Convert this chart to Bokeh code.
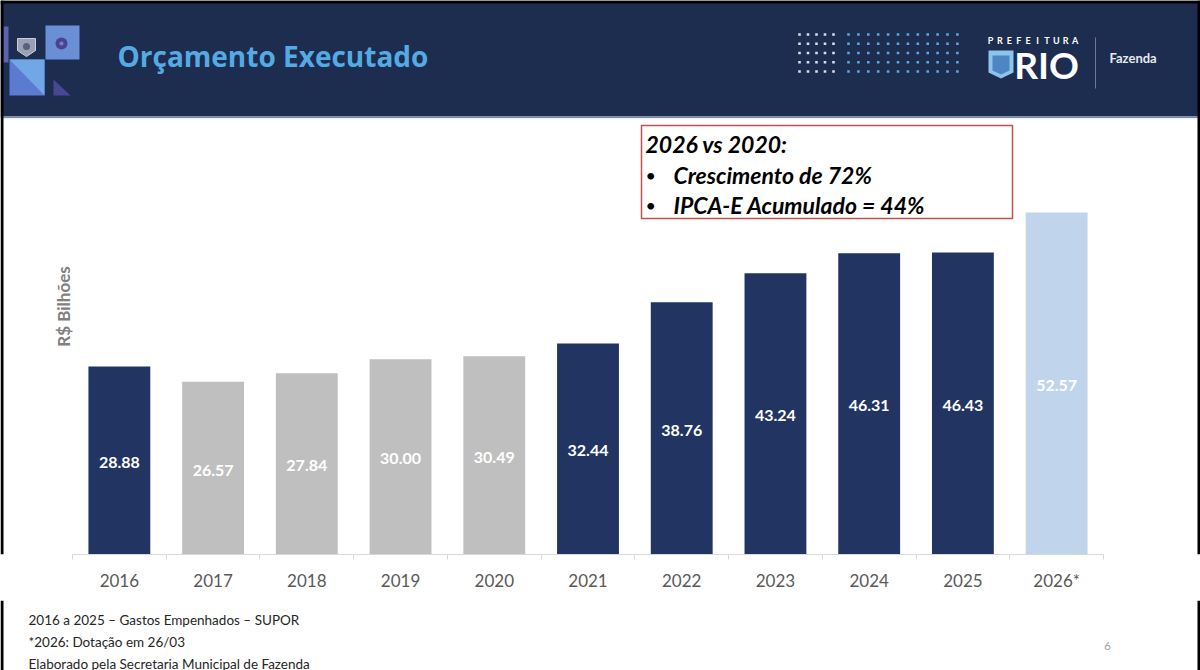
import math

from bokeh.plotting import figure
from bokeh.layouts import column
from bokeh.models import ColumnDataSource, Range1d, LabelSet, FixedTicker
from bokeh.core.properties import value
from bokeh.transform import factor_cmap
from bokeh.embed import file_html
from bokeh.resources import INLINE

# ---- data -------------------------------------------------------------
years = ["2016", "2017", "2018", "2019", "2020", "2021",
         "2022", "2023", "2024", "2025", "2026*"]
values = [28.88, 26.57, 27.84, 30.00, 30.49, 32.44,
          38.76, 43.24, 46.31, 46.43, 52.57]
periods = ["atual", "anterior", "anterior", "anterior", "anterior", "atual",
           "atual", "atual", "atual", "atual", "dotacao"]
period_names = ["atual", "anterior", "dotacao"]
period_colors = ["#223461", "#bfbfbf", "#c0d4ec"]

title_text = "Orçamento Executado"
y_label = "R$ Bilhões"
box_title = "2026 vs 2020:"
box_items = ["Crescimento de 72%", "IPCA-E Acumulado = 44%"]
notes = ["2016 a 2025 – Gastos Empenhados – SUPOR",
         "*2026: Dotação em 26/03",
         "Elaborado pela Secretaria Municipal de Fazenda"]
page_number = "6"

FONT = "Lato"
NAVY_BG = "#1c2d50"

# category slots: one unit per year, bar centred in its slot
centers = [i + 0.5 for i in range(len(years))]
source = ColumnDataSource(dict(
    x=centers,
    value=values,
    period=periods,
    mid=[v / 2 for v in values],
    label=[f"{v:.2f}" for v in values],
))

# ---- layout geometry (page pixels) --------------------------------------
W = 1200
TOP_H, BOT_H = 600, 70           # slide body / footnote strip
BASE = 554                       # baseline of the bars
CHART_L, CHART_R = 72, 1103      # horizontal extent of the category axis
SLOT = (CHART_R - CHART_L) / len(years)
UNIT = 6.506                     # pixels per R$ bilhão

main = figure(width=W, height=TOP_H,
              x_range=Range1d(-CHART_L / SLOT, (W - CHART_L) / SLOT),
              y_range=Range1d(0, BASE / UNIT),
              min_border_left=0, min_border_right=0, min_border_top=0,
              min_border_bottom=TOP_H - BASE,
              y_axis_location=None,
              output_backend="svg", toolbar_location=None,
              background_fill_color="white", border_fill_color="white")
main.outline_line_color = None
main.grid.visible = False

# page-pixel coordinates for the slide decoration
main.extra_x_ranges = {"px": Range1d(0, W)}
main.extra_y_ranges = {"py": Range1d(BASE, 0)}
PX = dict(x_range_name="px", y_range_name="py")


def quad(fig, l, r, t, b, color, **kw):
    fig.quad(left=[l], right=[r], top=[t], bottom=[b], fill_color=color,
             line_color=None, **kw)


def txt(fig, x, y, s, size, color, style="normal", align="left", font=FONT,
        angle=0, **kw):
    fig.text(x=[x], y=[y], text=[s], text_font=value(font), text_font_size=size,
             text_color=color, text_font_style=style, text_align=align,
             text_baseline="middle", angle=angle, **kw)


# ---- header band --------------------------------------------------------
quad(main, 0, W, 0, 116, NAVY_BG, **PX)
quad(main, 0, W, 116, 117.5, "#7d8aa6", **PX)
quad(main, 0, W, 117.5, 119, "#eef1f6", **PX)

# left emblem blocks
quad(main, 3, 8, 26, 62, "#5d62b0", **PX)
quad(main, 45, 79, 25, 59, "#6b8fd6", **PX)
main.scatter(x=[61], y=[43], size=12, marker="circle", fill_color="#45468f",
             line_color=None, **PX)
main.scatter(x=[61], y=[43], size=4, marker="circle", fill_color="#7c80c9",
             line_color=None, **PX)
# municipal crest (simplified)
main.patch(x=[17, 35, 35, 26, 17], y=[38, 38, 50, 56, 50], fill_color="#9aa1b4",
           line_color="#c9cdd8", line_width=1, **PX)
main.scatter(x=[26], y=[46], size=7, marker="circle", fill_color="#59607a",
             line_color=None, **PX)
main.patch(x=[9, 44, 44, 9], y=[59, 59, 95, 95], fill_color="#5b7bd0",
           line_color=None, **PX)
main.patch(x=[9, 44, 44], y=[59, 59, 95], fill_color="#70a7e6",
           line_color=None, **PX)
main.patch(x=[53, 53, 70], y=[79, 95, 95], fill_color="#4a4696",
           line_color=None, **PX)

txt(main, 117, 55, title_text, "28px", "#55aae3", style="bold", font="Open Sans", **PX)

# dotted pattern
rows_y = [34, 43.3, 52.5, 61.8, 71]
white_x = [799 + i * 8.5 for i in range(5)]
blue_x = [848 + i * 9.9 for i in range(12)]
main.scatter(x=[x for _ in rows_y for x in white_x],
             y=[y for y in rows_y for _ in white_x],
             marker="square", size=2.6, fill_color="#d9deea", line_color=None, **PX)
main.scatter(x=[x for _ in rows_y for x in blue_x],
             y=[y for y in rows_y for _ in blue_x],
             marker="square", size=2.6, fill_color="#5aa8df", line_color=None, **PX)

# city logo
main.text(x=[990 + i * 9.4 for i in range(10)], y=[40] * 10, text=list("PREFEITURA"),
          text_font=value(FONT), text_font_size="9px", text_color="white",
          text_font_style="bold", text_align="center", text_baseline="middle", **PX)
main.patch(x=[988, 1013, 1013, 1000.5, 988], y=[50, 50, 72, 78, 72],
           fill_color="#8ec3ea", line_color=None, **PX)
main.patch(x=[992, 1009, 1009, 1000.5, 992], y=[55, 55, 70, 74, 70],
           fill_color="#4d86c4", line_color=None, **PX)
txt(main, 1046, 64, "RIO", "37px", "white", style="bold", align="center", **PX)
quad(main, 1094.5, 1095.5, 37, 88, "#6c7a99", **PX)
txt(main, 1109, 57, "Fazenda", "13px", "#e6e9f0", style="bold", **PX)

# ---- bars -----------------------------------------------------------------
main.vbar(x="x", top="value", width=0.66, source=source, line_color=None,
          fill_color=factor_cmap("period", palette=period_colors, factors=period_names))

main.add_layout(LabelSet(x="x", y="mid", text="label", source=source,
                         text_align="center", text_baseline="middle", y_offset=-2,
                         text_color="white", text_font=value(FONT),
                         text_font_style="bold", text_font_size="16px"))

ax = main.xaxis[0]
ax.bounds = (0, len(years))
ax.ticker = FixedTicker(ticks=centers, minor_ticks=list(range(len(years) + 1)))
ax.major_label_overrides = {c: y for c, y in zip(centers, years)}
ax.axis_line_color = "#d9d9d9"
ax.major_tick_line_color = None
ax.major_tick_out = 0
ax.major_tick_in = 0
ax.minor_tick_line_color = "#d9d9d9"
ax.minor_tick_out = 5
ax.minor_tick_in = 0
ax.major_label_standoff = 10
ax.major_label_text_font = FONT
ax.major_label_text_font_size = "17px"
ax.major_label_text_color = "#595959"

txt(main, 63, 306, y_label, "17px", "#808080", style="bold", align="center",
    angle=math.pi / 2, **PX)

# ---- callout box --------------------------------------------------------
main.quad(left=[641], right=[1012], top=[125], bottom=[218], fill_color="white",
          line_color="#c0504d", line_width=1.5, **PX)
txt(main, 645, 143, box_title, "23px", "black", style="bold italic", **PX)
for j, item in enumerate(box_items):
    yy = 174 + j * 30
    txt(main, 645, yy, "•", "18px", "black", **PX)
    txt(main, 673, yy, item, "23px", "black", style="bold italic", **PX)

# slide frame edges
quad(main, 0, 3, 0, BASE, "black", **PX)
quad(main, W - 3, W, 0, BASE, "black", **PX)
quad(main, 0, W, 0, 3, "black", **PX)

# ---- footnote strip -------------------------------------------------------
foot = figure(width=W, height=BOT_H, x_range=Range1d(0, W),
              y_range=Range1d(TOP_H + BOT_H, TOP_H),
              min_border=0, x_axis_location=None, y_axis_location=None,
              output_backend="svg", toolbar_location=None,
              background_fill_color="white", border_fill_color="white")
foot.outline_line_color = None
foot.grid.visible = False
for j, note in enumerate(notes):
    txt(foot, 28, 619 + j * 22, note, "13.5px", "#262626")
txt(foot, 1107, 645, page_number, "12px", "#a6a6a6", align="center")
quad(foot, 0, 3, TOP_H, TOP_H + BOT_H, "black")
quad(foot, W - 3, W, TOP_H, TOP_H + BOT_H, "black")

layout = column(main, foot, spacing=0)
open("out.html", "w").write(file_html(layout, INLINE))
